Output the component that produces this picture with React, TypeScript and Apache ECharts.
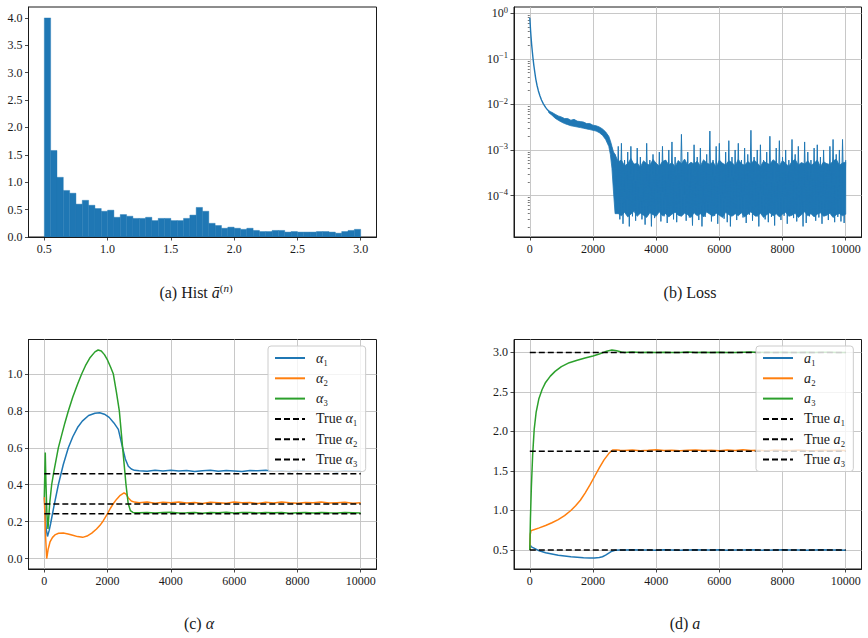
import React, { useEffect, useRef } from "react";
import * as echarts from "echarts";

const BLUE = "#1f77b4";
const ORANGE = "#ff7f0e";
const GREEN = "#2ca02c";
const INK = "#1a1a1a";
const GRIDLINE = "#c2c2c2";
const SERIF = "'Liberation Serif', 'DejaVu Serif', 'Times New Roman', serif";

// ---------- (a) histogram of the learned a-bar values ----------
const histStart = 0.5;
const histBinWidth = 0.05;
const histDensity = [
  4.0, 1.58, 1.09, 0.85, 0.8, 0.6, 0.67, 0.58, 0.52, 0.47,
  0.49, 0.36, 0.41, 0.38, 0.34, 0.34, 0.36, 0.3, 0.34, 0.34,
  0.3, 0.3, 0.34, 0.4, 0.54, 0.47, 0.25, 0.21, 0.16, 0.18,
  0.16, 0.14, 0.16, 0.12, 0.1, 0.1, 0.12, 0.12, 0.09, 0.1,
  0.09, 0.09, 0.09, 0.1, 0.1, 0.09, 0.07, 0.1, 0.12, 0.14,
];

// ---------- (b) training loss ----------
// fast initial decay
const lossHead = [
  [0, 0.8], [10, 0.62], [25, 0.42], [40, 0.3], [60, 0.2], [80, 0.145], [100, 0.105],
  [130, 0.07], [160, 0.05], [190, 0.036], [230, 0.026], [270, 0.02], [320, 0.0155],
  [370, 0.0125], [430, 0.0103], [500, 0.0086], [560, 0.0076], [620, 0.0069],
];
// noisy band [step, low, high] through the plateau and the drop
const lossBandHead = [
  [600, 0.0066, 0.0072], [700, 0.0058, 0.0067], [800, 0.005, 0.0061], [900, 0.0045, 0.0056],
  [1000, 0.0041, 0.0053], [1100, 0.0038, 0.0049], [1200, 0.0036, 0.0049], [1300, 0.0034, 0.0045],
  [1400, 0.0033, 0.0047], [1500, 0.0032, 0.0043], [1600, 0.0031, 0.0042], [1700, 0.003, 0.0041],
  [1800, 0.0029, 0.0038], [1900, 0.0028, 0.0038], [2000, 0.0027, 0.0035], [2100, 0.0026, 0.0034],
  [2200, 0.0024, 0.0032], [2300, 0.0021, 0.0029], [2400, 0.0017, 0.0025], [2500, 0.0012, 0.002],
  [2550, 0.0008, 0.0016], [2600, 0.0004, 0.0012], [2650, 0.00012, 0.0009], [2700, 0.00004, 0.0008],
];
const lossBandTailStart = 2800;
const lossBandTailStep = 100;
const lossBandTailHigh = [
  5.5e-4, 6e-4, 4.5e-4, 5e-4, 6.5e-4, 4.8e-4, 5.2e-4, 4.2e-4, 5.8e-4, 5e-4,
  4.6e-4, 6.2e-4, 5.1e-4, 4.4e-4, 5.6e-4, 6e-4, 4.7e-4, 5.3e-4, 4.3e-4, 5.9e-4,
  5e-4, 6.3e-4, 4.6e-4, 5.4e-4, 4.9e-4, 5.7e-4, 4.4e-4, 6.1e-4, 5.2e-4, 4.8e-4,
  5.5e-4, 4.2e-4, 6e-4, 5.1e-4, 4.7e-4, 5.8e-4, 5.3e-4, 4.5e-4, 6.2e-4, 5e-4,
  4.6e-4, 5.6e-4, 4.9e-4, 6e-4, 5.2e-4, 4.3e-4, 5.7e-4, 5.1e-4, 4.8e-4, 6.1e-4,
  5.4e-4, 4.5e-4, 5.9e-4, 5e-4, 4.4e-4, 5.6e-4, 6.2e-4, 4.7e-4, 5.3e-4, 4.9e-4,
  5.8e-4, 4.6e-4, 5.1e-4, 6e-4, 4.3e-4, 5.5e-4, 5e-4, 4.8e-4, 5.7e-4, 6.3e-4,
  4.6e-4, 5.2e-4, 5.4e-4,
];
const lossBandTailLow = [
  4e-5, 3.6e-5, 4.3e-5, 3.4e-5, 3.9e-5, 4.5e-5, 3.5e-5, 4.1e-5, 3.7e-5, 3.3e-5,
  4.2e-5, 3.8e-5, 3.5e-5, 4.4e-5, 3.6e-5, 4e-5, 3.4e-5, 3.9e-5, 4.3e-5, 3.7e-5,
  3.5e-5, 4.1e-5, 3.8e-5, 3.3e-5, 4.2e-5, 3.6e-5, 4e-5, 3.4e-5, 4.4e-5, 3.9e-5,
  3.5e-5, 4.1e-5, 3.7e-5, 3.3e-5, 4.3e-5, 3.8e-5, 3.5e-5, 4e-5, 3.6e-5, 4.2e-5,
  3.4e-5, 3.9e-5, 4.4e-5, 3.7e-5, 3.5e-5, 4.1e-5, 3.3e-5, 3.8e-5, 4.2e-5, 3.6e-5,
  4e-5, 3.4e-5, 3.9e-5, 4.3e-5, 3.5e-5, 3.7e-5, 4.1e-5, 3.3e-5, 3.8e-5, 4.4e-5,
  3.6e-5, 4e-5, 3.4e-5, 3.9e-5, 4.2e-5, 3.5e-5, 3.7e-5, 4.1e-5, 3.3e-5, 3.8e-5,
  4e-5, 3.6e-5, 3.9e-5,
];
// individual spikes: maxima every 100 steps from 2700, minima every 100 steps from 2750
const lossSpikeStart = 2700;
const lossSpikeStep = 50;
const lossPeaks = [
  8e-4, 1.2e-3, 1.4e-3, 6e-4, 9e-4, 1.2e-3, 5e-4, 1.1e-3, 7e-4, 4e-4,
  1.4e-3, 6e-4, 8e-4, 5e-4, 9e-4, 1.2e-3, 6e-4, 1.0e-3, 1.5e-3, 7e-4,
  5e-4, 2.2e-3, 6e-4, 9e-4, 4e-4, 1.3e-3, 7e-4, 1.1e-3, 5e-4, 8e-4,
  2.6e-3, 6e-4, 1.2e-3, 1.4e-3, 5e-4, 9e-4, 1.6e-3, 7e-4, 1.0e-3, 1.4e-3,
  6e-4, 1.1e-3, 8e-4, 2.7e-3, 7e-4, 1.0e-3, 1.3e-3, 6e-4, 9e-4, 2.0e-3,
  5e-4, 1.1e-3, 1.6e-3, 7e-4, 1.0e-3, 6e-4, 1.7e-3, 8e-4, 1.2e-3, 5e-4,
  1.5e-3, 9e-4, 6e-4, 1.1e-3, 1.3e-3, 7e-4, 1.0e-3, 5e-4, 1.2e-3, 1.7e-3,
  8e-4, 1.0e-3, 1.7e-3, 6e-4,
];
const lossTroughs = [
  5e-5, 3e-5, 2.4e-5, 4e-5, 2.1e-5, 3.5e-5, 2.8e-5, 4.5e-5, 3e-5, 2.3e-5,
  3.8e-5, 2.1e-5, 3.2e-5, 4.2e-5, 2.7e-5, 3.5e-5, 2.5e-5, 4e-5, 3e-5, 2.6e-5,
  3.6e-5, 4.4e-5, 2.8e-5, 3.3e-5, 2.2e-5, 3.9e-5, 2.9e-5, 2.1e-5, 3.4e-5, 4.1e-5,
  2.7e-5, 3.6e-5, 2.4e-5, 4.3e-5, 3.1e-5, 2.6e-5, 2.1e-5, 3.7e-5, 2.9e-5, 4e-5,
  3.3e-5, 2.5e-5, 3.8e-5, 2.8e-5, 3.5e-5, 2.1e-5, 4.2e-5, 3e-5, 2.6e-5, 3.4e-5,
  2.2e-5, 3.9e-5, 2.9e-5, 3.6e-5, 2.4e-5, 4.1e-5, 3.2e-5, 2.7e-5, 3.8e-5, 2.1e-5,
  2.5e-5, 3.5e-5, 4e-5, 2.8e-5, 3.3e-5, 2.4e-5, 3.7e-5, 2.9e-5, 4.3e-5, 2.6e-5,
  3.4e-5, 2.7e-5, 2.5e-5,
];

// ---------- (c) mixture weights alpha ----------
const flatStart = 3000;
const flatStep = 250;
const alpha1Head = [
  [0, 0.333], [30, 0.24], [60, 0.16], [100, 0.12], [150, 0.15], [200, 0.19], [300, 0.28],
  [443, 0.4], [600, 0.51], [759, 0.6], [900, 0.66], [1050, 0.71], [1200, 0.745],
  [1400, 0.775], [1600, 0.787], [1750, 0.79], [1900, 0.782], [2050, 0.765], [2200, 0.735],
  [2340, 0.7], [2476, 0.6], [2560, 0.54], [2655, 0.5], [2750, 0.485], [2850, 0.478],
];
const alpha1Flat = [
  0.476, 0.473, 0.478, 0.474, 0.479, 0.474, 0.477, 0.472, 0.476, 0.478,
  0.473, 0.477, 0.475, 0.472, 0.477, 0.476, 0.479, 0.473, 0.476, 0.472,
  0.477, 0.475, 0.473, 0.477, 0.475, 0.472, 0.476, 0.474, 0.475,
];
const alpha2Head = [
  [0, 0.333], [40, 0.12], [75, 0.0], [120, 0.05], [180, 0.09], [260, 0.115], [350, 0.13],
  [450, 0.137], [600, 0.138], [750, 0.133], [900, 0.126], [1050, 0.119], [1212, 0.115],
  [1350, 0.122], [1500, 0.138], [1650, 0.16], [1760, 0.18], [1865, 0.205], [1970, 0.235],
  [2080, 0.27], [2190, 0.3], [2287, 0.322], [2400, 0.343], [2519, 0.356], [2580, 0.35],
  [2650, 0.33], [2750, 0.312], [2850, 0.306],
];
const alpha2Flat = [
  0.303, 0.306, 0.3, 0.305, 0.302, 0.307, 0.301, 0.304, 0.299, 0.305,
  0.303, 0.3, 0.306, 0.302, 0.304, 0.299, 0.305, 0.301, 0.307, 0.303,
  0.3, 0.304, 0.302, 0.306, 0.301, 0.303, 0.305, 0.3, 0.302,
];
const alpha3Head = [
  [0, 0.333], [15, 0.46], [30, 0.575], [50, 0.42], [80, 0.25], [115, 0.16], [170, 0.3],
  [232, 0.4], [300, 0.47], [443, 0.6], [550, 0.67], [650, 0.735], [759, 0.8], [900, 0.875],
  [1050, 0.945], [1180, 1.0], [1300, 1.045], [1450, 1.09], [1600, 1.12], [1700, 1.13],
  [1800, 1.125], [1900, 1.105], [2000, 1.075], [2100, 1.035], [2182, 1.0], [2280, 0.9],
  [2371, 0.8], [2476, 0.6], [2582, 0.4], [2650, 0.3], [2720, 0.26], [2800, 0.25],
];
const alpha3Flat = [
  0.248, 0.25, 0.247, 0.249, 0.251, 0.247, 0.248, 0.25, 0.246, 0.249,
  0.248, 0.251, 0.247, 0.249, 0.25, 0.247, 0.249, 0.248, 0.25, 0.246,
  0.248, 0.249, 0.247, 0.25, 0.248, 0.247, 0.249, 0.248, 0.247,
];
const trueAlpha = [0.46, 0.296, 0.243];

// ---------- (d) component parameters a ----------
const a1Head = [
  [0, 0.5], [15, 0.56], [50, 0.54], [150, 0.52], [300, 0.49], [500, 0.465], [700, 0.45],
  [900, 0.435], [1100, 0.425], [1300, 0.415], [1500, 0.41], [1700, 0.403], [1900, 0.4],
  [2050, 0.4], [2200, 0.405], [2300, 0.415], [2400, 0.435], [2500, 0.46], [2600, 0.485],
  [2700, 0.497], [2850, 0.5],
];
const a1Flat = [
  0.5, 0.502, 0.499, 0.501, 0.498, 0.502, 0.5, 0.497, 0.501, 0.503,
  0.499, 0.5, 0.502, 0.498, 0.501, 0.499, 0.503, 0.5, 0.498, 0.501,
  0.502, 0.499, 0.5, 0.497, 0.501, 0.502, 0.499, 0.5, 0.498,
];
const a2Head = [
  [0, 0.5], [15, 0.7], [40, 0.745], [150, 0.76], [300, 0.78], [500, 0.81], [700, 0.845],
  [900, 0.885], [1100, 0.935], [1300, 1.0], [1450, 1.06], [1600, 1.13], [1750, 1.22],
  [1900, 1.32], [2050, 1.43], [2200, 1.54], [2350, 1.64], [2500, 1.72], [2620, 1.765],
  [2750, 1.765], [2850, 1.762],
];
const a2Flat = [
  1.76, 1.765, 1.757, 1.762, 1.768, 1.758, 1.763, 1.756, 1.761, 1.766,
  1.759, 1.763, 1.757, 1.764, 1.76, 1.767, 1.758, 1.762, 1.756, 1.765,
  1.761, 1.758, 1.764, 1.76, 1.757, 1.763, 1.759, 1.762, 1.76,
];
const a3Head = [
  [0, 0.5], [20, 0.9], [50, 1.3], [90, 1.7], [140, 2.03], [200, 2.24], [285, 2.41],
  [390, 2.53], [500, 2.62], [650, 2.7], [800, 2.76], [1000, 2.82], [1250, 2.87],
  [1500, 2.9], [1750, 2.93], [2000, 2.955], [2200, 2.98], [2400, 3.01], [2600, 3.03],
  [2750, 3.02], [2900, 3.005],
];
const a3Flat = [
  3.0, 3.004, 2.998, 3.002, 2.997, 3.003, 3.0, 2.998, 3.004, 2.999,
  3.001, 2.997, 3.003, 3.0, 2.998, 3.002, 3.005, 2.999, 3.001, 2.998,
  3.003, 3.0, 2.997, 3.002, 2.999, 3.001, 3.003, 2.998, 3.0,
];
const trueA = [0.5, 1.75, 3.0];

// ---------- tick positions ----------
const histXTicks = [0.5, 1.0, 1.5, 2.0, 2.5, 3.0];
const histYTicks = [0, 0.5, 1.0, 1.5, 2.0, 2.5, 3.0, 3.5, 4.0];
const stepTicks = [0, 2000, 4000, 6000, 8000, 10000];
const lossYTicks = [1e-4, 1e-3, 1e-2, 1e-1, 1];
const alphaYTicks = [0, 0.2, 0.4, 0.6, 0.8, 1.0];
const aYTicks = [0.5, 1.0, 1.5, 2.0, 2.5, 3.0];

const STEP_MIN = -500;
const STEP_MAX = 10500;

function withFlat(head: number[][], flat: number[]) {
  return head.concat(flat.map((v, i) => [flatStart + i * flatStep, v]));
}

function lossBandRows() {
  const rows: number[][] = lossBandHead.slice();
  lossBandTailHigh.forEach((hi, i) => {
    rows.push([lossBandTailStart + i * lossBandTailStep, lossBandTailLow[i], hi]);
  });
  return rows;
}

function lossSpikeData() {
  const out: number[][] = [];
  lossPeaks.forEach((p, i) => {
    out.push([lossSpikeStart + 2 * i * lossSpikeStep, p]);
    if (i < lossTroughs.length) out.push([lossSpikeStart + (2 * i + 1) * lossSpikeStep, lossTroughs[i]]);
  });
  return out;
}

function minorLogTicks(lo: number, hi: number) {
  const out: number[] = [];
  for (let k = -6; k <= 1; k++) {
    for (let m = 2; m <= 9; m++) {
      const v = m * Math.pow(10, k);
      if (v > lo && v < hi) out.push(v);
    }
  }
  return out;
}

const fmt1 = (v: number) => v.toFixed(1);
const fmtInt = (v: number) => String(Math.round(v));
const fmtPow = (v: number) => {
  const e = Math.round(Math.log10(v));
  return "{b|10}{s|" + (e < 0 ? "\u2212" + -e : String(e)) + "}";
};

function axis(
  type: string,
  gridIndex: number,
  min: number,
  max: number,
  ticks: number[],
  fmt: (v: number) => string,
  showGrid: boolean,
  extra: any = {}
) {
  return {
    type,
    gridIndex,
    min,
    max,
    axisLine: { show: true, onZero: false, lineStyle: { color: INK, width: 1 } },
    axisTick: { show: true, length: 3.5, customValues: ticks, lineStyle: { color: INK, width: 0.8 } },
    axisLabel: {
      customValues: ticks,
      formatter: fmt,
      color: INK,
      fontFamily: SERIF,
      fontSize: 12,
      margin: 6,
      rich: {
        b: { fontFamily: SERIF, fontSize: 12, color: INK, lineHeight: 16 },
        s: { fontFamily: SERIF, fontSize: 8.5, color: INK, lineHeight: 9, verticalAlign: "top" },
      },
    },
    splitLine: { show: showGrid, lineStyle: { color: GRIDLINE, width: 0.9 } },
    ...extra,
  };
}

function curve(name: string, data: number[][], color: string, xi: number, yi: number, width = 1.5) {
  return {
    type: "line",
    name,
    xAxisIndex: xi,
    yAxisIndex: yi,
    data,
    symbol: "none",
    showSymbol: false,
    silent: true,
    lineStyle: { color, width },
    itemStyle: { color },
  };
}

function trueLine(name: string, value: number, xi: number, yi: number) {
  return {
    type: "line",
    name,
    xAxisIndex: xi,
    yAxisIndex: yi,
    data: [
      [0, value],
      [10000, value],
    ],
    symbol: "none",
    showSymbol: false,
    silent: true,
    z: 3,
    lineStyle: { color: "#000", width: 1.5, type: [6, 3] },
    itemStyle: { color: "#000" },
  };
}

function legendFor(names: string[], left: number, top: number) {
  return {
    data: names,
    orient: "vertical",
    left,
    top,
    itemWidth: 30,
    itemHeight: 14,
    itemGap: 6.3,
    padding: [5, 8, 5, 6],
    backgroundColor: "rgba(255,255,255,0.8)",
    borderColor: "#cccccc",
    borderWidth: 1,
    borderRadius: 3,
    selectedMode: false,
    // the line-series legend marker adds a symbol; keep only the line
    itemStyle: { opacity: 0, borderWidth: 0 },
    // italic symbol, upright subscript index
    formatter: (name: string) => name.replace(/([αa])([₁₂₃])/, "{i|$1}$2"),
    textStyle: {
      fontFamily: SERIF,
      fontSize: 14,
      color: INK,
      padding: [0, 0, 0, 6],
      rich: { i: { fontFamily: SERIF, fontSize: 14, fontStyle: "italic", color: INK } },
    },
  };
}

function caption(text: string, x: number, y: number) {
  return {
    type: "text",
    x,
    y,
    silent: true,
    style: {
      text,
      fill: INK,
      fontFamily: SERIF,
      fontSize: 16,
      align: "center",
      verticalAlign: "middle",
      rich: {
        i: { fontFamily: SERIF, fontSize: 16, fontStyle: "italic", fill: INK, lineHeight: 19 },
        s: { fontFamily: SERIF, fontSize: 11, fill: INK, lineHeight: 11, verticalAlign: "top" },
        si: { fontFamily: SERIF, fontSize: 11, fontStyle: "italic", fill: INK, lineHeight: 11, verticalAlign: "top" },
      },
    },
  };
}

export default function App() {
  const ref = useRef<HTMLDivElement>(null);

  useEffect(() => {
    if (!ref.current) return;
    const chart = echarts.init(ref.current, undefined, { renderer: "svg" });

    const lossMin = Math.pow(10, -4.91);
    const lossMax = Math.pow(10, 0.138);

    const histData = histDensity.map((h, i) => [
      histStart + i * histBinWidth,
      histStart + (i + 1) * histBinWidth,
      h,
    ]);

    const bandRows = lossBandRows();

    const frame = { show: true, borderColor: INK, borderWidth: 1, backgroundColor: "transparent" };

    const option: any = {
      animation: false,
      backgroundColor: "#ffffff",
      grid: [
        { left: 28.5, top: 7, width: 348, height: 230, ...frame },
        { left: 514, top: 7, width: 347.5, height: 230, ...frame },
        { left: 28.5, top: 339.5, width: 348, height: 229.5, ...frame },
        { left: 514, top: 339.5, width: 347.5, height: 229.5, ...frame },
      ],
      xAxis: [
        axis("value", 0, 0.375, 3.125, histXTicks, fmt1, false),
        axis("value", 1, STEP_MIN, STEP_MAX, stepTicks, fmtInt, true),
        axis("value", 2, STEP_MIN, STEP_MAX, stepTicks, fmtInt, true),
        axis("value", 3, STEP_MIN, STEP_MAX, stepTicks, fmtInt, true),
      ],
      yAxis: [
        axis("value", 0, 0, 4.2, histYTicks, fmt1, false),
        axis("log", 1, lossMin, lossMax, lossYTicks, fmtPow, true, { logBase: 10 }),
        {
          type: "log",
          logBase: 10,
          gridIndex: 1,
          min: lossMin,
          max: lossMax,
          position: "left",
          axisLine: { show: false },
          axisTick: {
            show: true,
            length: 2,
            customValues: minorLogTicks(lossMin, lossMax),
            lineStyle: { color: INK, width: 0.6 },
          },
          axisLabel: { show: false },
          splitLine: { show: false },
        },
        axis("value", 2, -0.0565, 1.187, alphaYTicks, fmt1, true),
        axis("value", 3, 0.26, 3.163, aYTicks, fmt1, true),
      ],
      legend: [
        legendFor(["α₁", "α₂", "α₃", "True α₁", "True α₂", "True α₃"], 268, 346),
        legendFor(["a₁", "a₂", "a₃", "True a₁", "True a₂", "True a₃"], 756, 346),
      ],
      graphic: [
        caption("(a) Hist {i|ā}{s|(}{si|n}{s|)}", 196, 292),
        caption("(b) Loss", 690, 292),
        caption("(c) {i|α}", 199, 623),
        caption("(d) {i|a}", 685, 623),
      ],
      series: [
        {
          type: "custom",
          xAxisIndex: 0,
          yAxisIndex: 0,
          silent: true,
          clip: true,
          encode: { x: [0, 1], y: 2 },
          data: histData,
          renderItem: (_params: any, api: any) => {
            const p0 = api.coord([api.value(0), api.value(2)]);
            const p1 = api.coord([api.value(1), 0]);
            return {
              type: "rect",
              shape: { x: p0[0], y: p0[1], width: p1[0] - p0[0], height: p1[1] - p0[1] },
              style: { fill: BLUE, stroke: BLUE, lineWidth: 0.4 },
            };
          },
        },
        curve("loss", lossHead, BLUE, 1, 1, 1.4),
        {
          // dense noisy band of the loss, filled between its lower and upper envelope
          type: "custom",
          xAxisIndex: 1,
          yAxisIndex: 1,
          silent: true,
          clip: true,
          encode: { x: 0, y: [1, 2] },
          data: [bandRows[0]],
          renderItem: (_params: any, api: any) => {
            const upper = bandRows.map((r) => api.coord([r[0], r[2]]));
            const lower = bandRows.map((r) => api.coord([r[0], r[1]])).reverse();
            return {
              type: "polygon",
              shape: { points: upper.concat(lower) },
              style: { fill: BLUE, stroke: BLUE, lineWidth: 0.8, lineJoin: "round" },
            };
          },
        },
        curve("loss spikes", lossSpikeData(), BLUE, 1, 1, 1.0),

        curve("α₁", withFlat(alpha1Head, alpha1Flat), BLUE, 2, 3),
        curve("α₂", withFlat(alpha2Head, alpha2Flat), ORANGE, 2, 3),
        curve("α₃", withFlat(alpha3Head, alpha3Flat), GREEN, 2, 3),
        trueLine("True α₁", trueAlpha[0], 2, 3),
        trueLine("True α₂", trueAlpha[1], 2, 3),
        trueLine("True α₃", trueAlpha[2], 2, 3),

        curve("a₁", withFlat(a1Head, a1Flat), BLUE, 3, 4),
        curve("a₂", withFlat(a2Head, a2Flat), ORANGE, 3, 4),
        curve("a₃", withFlat(a3Head, a3Flat), GREEN, 3, 4),
        trueLine("True a₁", trueA[0], 3, 4),
        trueLine("True a₂", trueA[1], 3, 4),
        trueLine("True a₃", trueA[2], 3, 4),
      ],
    };

    chart.setOption(option);
    return () => chart.dispose();
  }, []);

  return (
    <div
      ref={ref}
      style={{ position: "fixed", left: 0, top: 0, width: 868, height: 638, background: "#fff" }}
    />
  );
}
